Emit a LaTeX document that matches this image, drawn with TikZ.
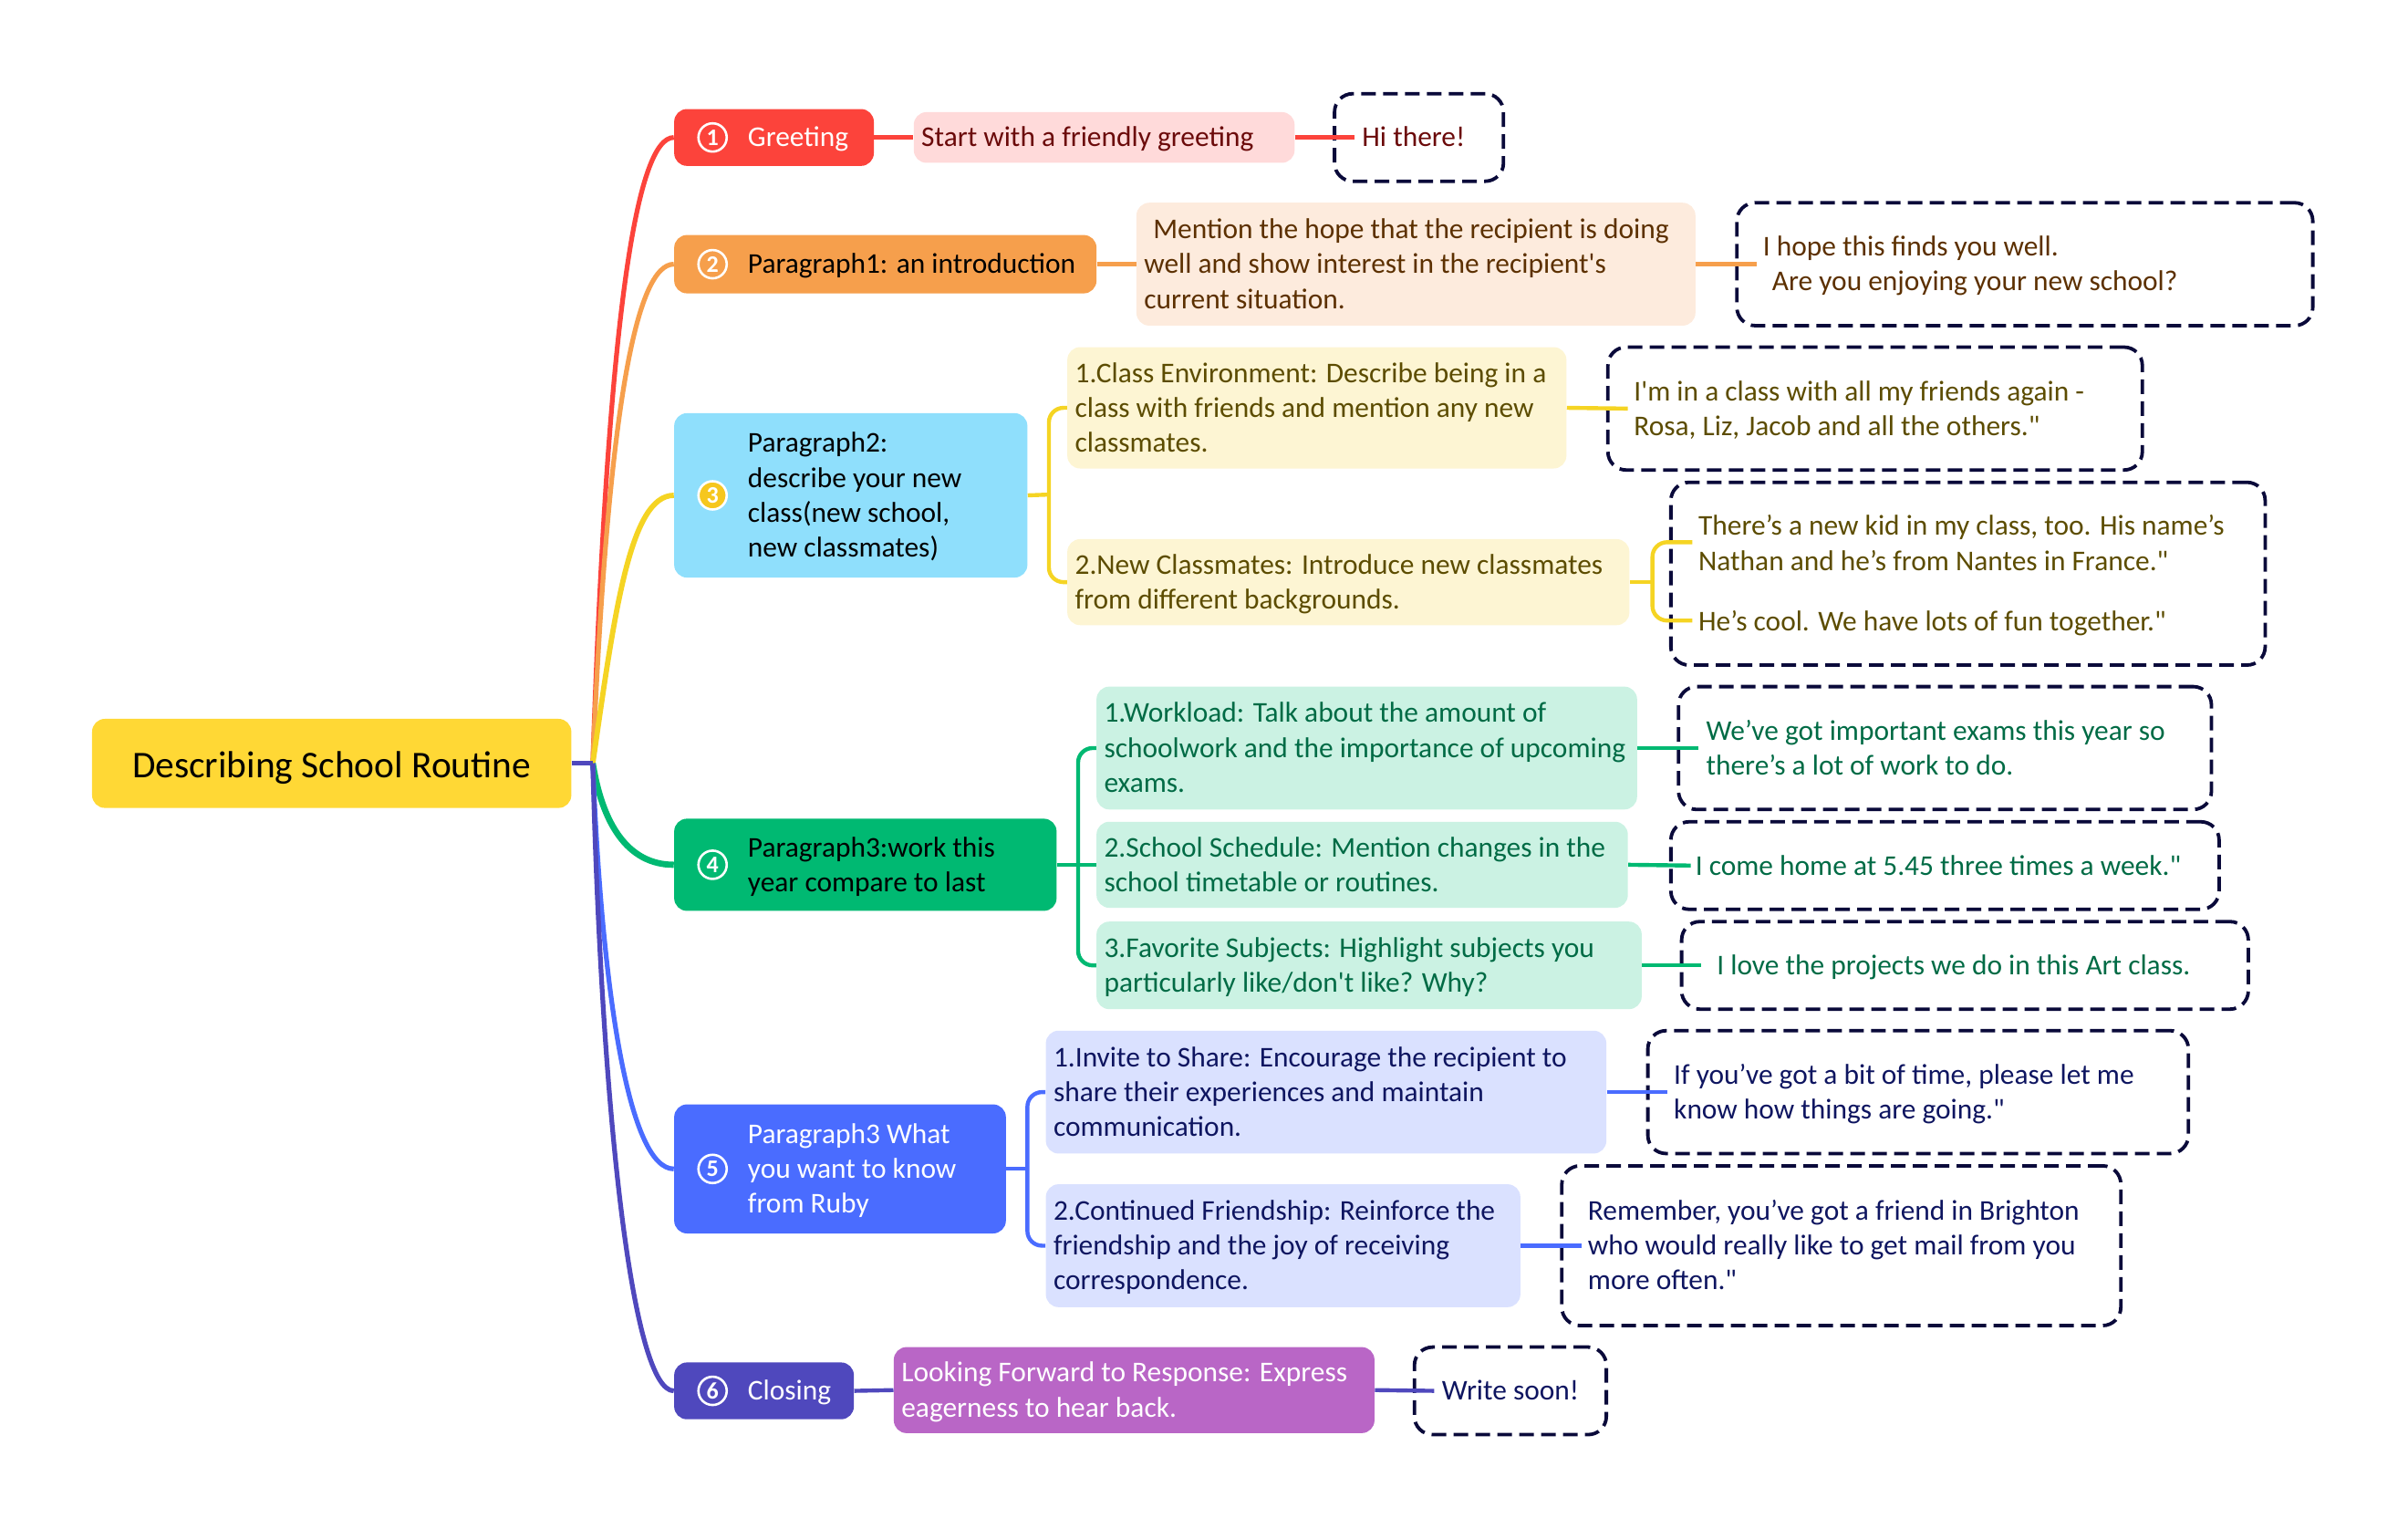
\documentclass[tikz,border=0pt]{standalone}
\usepackage{fontspec}
\setmainfont{Carlito}
\newcommand{\txtsize}{\fontsize{15.7pt}{19.1pt}\selectfont}
\newcommand{\sq}{\textquotesingle}
\newcommand{\dq}{\textquotedbl}
\definecolor{cRoot}{HTML}{FFD835}
\definecolor{cRed}{HTML}{FC433B}
\definecolor{cOrg}{HTML}{F69F4C}
\definecolor{cSky}{HTML}{8FDFFC}
\definecolor{cYel}{HTML}{F5D423}
\definecolor{cGrn}{HTML}{00B972}
\definecolor{cBlu}{HTML}{4A6CFF}
\definecolor{cInd}{HTML}{4F48BD}
\definecolor{cPur}{HTML}{B966C6}
\definecolor{fRed}{HTML}{FFDADA}
\definecolor{fOrg}{HTML}{FDEBDD}
\definecolor{fYel}{HTML}{FDF5D3}
\definecolor{fGrn}{HTML}{CBF2E3}
\definecolor{fBlu}{HTML}{DAE1FF}
\definecolor{tRed}{HTML}{6B0A0A}
\definecolor{tOrg}{HTML}{5C3000}
\definecolor{tYel}{HTML}{5C4C00}
\definecolor{tGrn}{HTML}{006B45}
\definecolor{tBlu}{HTML}{0E1560}
\definecolor{cDash}{HTML}{0A0A3A}
\tikzset{
  solidbox/.style={rounded corners=7pt,draw=none},
  dashbox/.style={rounded corners=10pt,draw=cDash,line width=1.9pt,dash pattern=on 8pt off 4pt,fill=none},
  numring/.style={circle,draw=white,line width=1.3pt,text=white,inner sep=0pt,minimum size=15.5pt,font=\fontsize{13pt}{13pt}\selectfont\bfseries},
  link/.style={line width=2.2pt},
  trunk/.style={line width=2.6pt},
}
% name, style, x1,y1,x2,y2, left pad, text
\newcommand{\bx}[8]{%
  \pgfmathsetmacro{\bxX}{(#3+#5)/2}%
  \pgfmathsetmacro{\bxY}{(#4+#6)/2}%
  \pgfmathsetlengthmacro{\bxW}{(#5-#3)*0.84185pt}%
  \pgfmathsetlengthmacro{\bxH}{(#6-#4)*0.84185pt}%
  \pgfmathsetlengthmacro{\bxP}{#7*0.84185pt}%
  \node[#2,minimum width=\bxW,minimum height=\bxH,inner sep=0pt] (#1) at (\bxX,\bxY)
    {\makebox[\bxW][l]{\hspace*{\bxP}\txtsize\raisebox{-1.3pt}[\height][\depth]{\begin{tabular}[c]{@{}l@{}}#8\end{tabular}}}};%
}
\begin{document}
\begin{tikzpicture}[x=0.84185pt,y=-0.84185pt]
\useasboundingbox (0,0) rectangle (1568,995.4);
\coordinate (hub) at (386,497);
\coordinate (j3) at (683,322);
\coordinate (j3b) at (1076,379);
\coordinate (j4) at (702,563);
\coordinate (j5) at (669,761);
\coordinate (e3a) at (1102,353);
\coordinate (e3b) at (1102,404);

% root
\node[solidbox,fill=cRoot,minimum width=262.7pt,minimum height=48.8pt,inner sep=0pt,font=\fontsize{20.7pt}{24pt}\selectfont,text=black] (root) at (216,497) {\raisebox{-2.4pt}[\height][\depth]{Describing School Routine}};

% branches
\bx{b1}{solidbox,fill=cRed,text=white}{439}{71}{569}{108}{48}{Greeting}
\bx{b2}{solidbox,fill=cOrg,text=black}{439}{153}{714}{191}{48}{Paragraph1: an introduction}
\bx{b3}{solidbox,fill=cSky,text=black}{439}{269}{669}{376}{48}{Paragraph2:\\describe your new\\class(new school,\\new classmates)}
\bx{b4}{solidbox,fill=cGrn,text=black}{439}{533}{688}{593}{48}{Paragraph3:work this\\year compare to last}
\bx{b5}{solidbox,fill=cBlu,text=white}{439}{719}{655}{803}{48}{Paragraph3 What\\you want to know\\from Ruby}
\bx{b6}{solidbox,fill=cInd,text=white}{439}{887}{556}{924}{48}{Closing}

\node[numring] (n1) at (464,89.5) {1};
\node[numring] (n2) at (464,172) {2};
\node[numring,fill=cYel!85!orange] (n3) at (464,322.5) {3};
\node[numring] (n4) at (464,563) {4};
\node[numring] (n5) at (464,761) {5};
\node[numring] (n6) at (464,905.5) {6};

% second level
\bx{s1}{solidbox,fill=fRed,text=tRed}{595}{73}{843}{106}{5}{Start with a friendly greeting}
\bx{s2}{solidbox,fill=fOrg,text=tOrg}{740}{132}{1104}{212}{5}{\hspace*{5pt}Mention the hope that the recipient is doing\\well and show interest in the recipient\sq s\\current situation.}
\bx{s3a}{solidbox,fill=fYel,text=tYel}{695}{226}{1020}{305}{5}{1.Class Environment: Describe being in a\\class with friends and mention any new\\classmates.}
\bx{s3b}{solidbox,fill=fYel,text=tYel}{695}{351}{1061}{407}{5}{2.New Classmates: Introduce new classmates\\from different backgrounds.}
\bx{s4a}{solidbox,fill=fGrn,text=tGrn}{714}{447}{1066}{527}{5}{1.Workload: Talk about the amount of\\schoolwork and the importance of upcoming\\exams.}
\bx{s4b}{solidbox,fill=fGrn,text=tGrn}{714}{535}{1060}{591}{5}{2.School Schedule: Mention changes in the\\school timetable or routines.}
\bx{s4c}{solidbox,fill=fGrn,text=tGrn}{714}{600}{1069}{657}{5}{3.Favorite Subjects: Highlight subjects you\\particularly like/don\sq t like? Why?}
\bx{s5a}{solidbox,fill=fBlu,text=tBlu}{681}{671}{1046}{751}{5}{1.Invite to Share: Encourage the recipient to\\share their experiences and maintain\\communication.}
\bx{s5b}{solidbox,fill=fBlu,text=tBlu}{681}{771}{990}{851}{5}{2.Continued Friendship: Reinforce the\\friendship and the joy of receiving\\correspondence.}
\bx{s6}{solidbox,fill=cPur,text=white}{582}{877}{895}{933}{5}{Looking Forward to Response: Express\\eagerness to hear back.}

% dashed notes
\bx{d1}{dashbox,text=tRed}{869}{61}{979}{118}{18}{Hi there!}
\bx{d2}{dashbox,text=tOrg}{1131}{132}{1506}{212}{17}{I hope this finds you well.\\\hspace*{5pt}Are you enjoying your new school?}
\bx{d3a}{dashbox,text=tYel}{1047}{226}{1395}{306}{17}{I\sq m in a class with all my friends again -\\Rosa, Liz, Jacob and all the others.\dq}
\bx{d3b}{dashbox,text=tYel}{1088}{314}{1475}{433}{18}{There’s a new kid in my class, too. His name’s\\Nathan and he’s from Nantes in France.\dq\\[13.9pt]He’s cool. We have lots of fun together.\dq}
\bx{d4a}{dashbox,text=tGrn}{1093}{447}{1440}{527}{18}{We’ve got important exams this year so\\there’s a lot of work to do.}
\bx{d4b}{dashbox,text=tGrn}{1088}{535}{1445}{592}{16}{I come home at 5.45 three times a week.\dq}
\bx{d4c}{dashbox,text=tGrn}{1095}{600}{1464}{657}{23}{I love the projects we do in this Art class.}
\bx{d5a}{dashbox,text=tBlu}{1073}{671}{1425}{751}{17}{If you’ve got a bit of time, please let me\\know how things are going.\dq}
\bx{d5b}{dashbox,text=tBlu}{1017}{759}{1381}{863}{17}{Remember, you’ve got a friend in Brighton\\who would really like to get mail from you\\more often.\dq}
\bx{d6}{dashbox,text=tBlu}{921}{877}{1046}{934}{18}{Write soon!}

% main curves
\draw[trunk,cRed] (hub) .. controls (396,200) and (415,89.5) .. (b1.west);
\draw[trunk,cOrg] (hub) .. controls (396,260) and (415,172) .. (b2.west);
\draw[trunk,cYel,line width=2.9pt] (hub) .. controls (400,400) and (410,322.5) .. (b3.west);
\draw[trunk,cGrn,line width=3.4pt] (hub) .. controls (392,535) and (408,563) .. (b4.west);
\draw[trunk,cBlu] (hub) .. controls (392,650) and (410,761) .. (b5.west);
\draw[trunk,cInd] (hub) .. controls (392,730) and (412,905.5) .. (b6.west);
\draw[trunk,cInd] (root.east) -- (hub);

% level links
\draw[link,cRed] (b1.east) -- (s1.west);
\draw[link,cRed] (s1.east) -- ([xshift=11.8pt]d1.west);
\draw[link,cOrg] (b2.east) -- (s2.west);
\draw[link,cOrg] (s2.east) -- ([xshift=11.8pt]d2.west);
\draw[link,cYel] (b3.east) -- (j3);
\draw[link,cYel,rounded corners=8pt] (s3a.west) -| (j3) |- (s3b.west);
\draw[link,cYel] (s3a.east) -- ([xshift=11.8pt]d3a.west);
\draw[link,cYel] (s3b.east) -- (j3b);
\draw[link,cYel,rounded corners=8pt] (e3a) -| (j3b) |- (e3b);
\draw[link,cGrn] (b4.east) -- (s4b.west);
\draw[link,cGrn,rounded corners=8pt] (s4a.west) -| (j4) |- (s4c.west);
\draw[link,cGrn] (s4a.east) -- ([xshift=11.8pt]d4a.west);
\draw[link,cGrn] (s4b.east) -- ([xshift=11.8pt]d4b.west);
\draw[link,cGrn] (s4c.east) -- ([xshift=11.8pt]d4c.west);
\draw[link,cBlu] (b5.east) -- (j5);
\draw[link,cBlu,rounded corners=8pt] (s5a.west) -| (j5) |- (s5b.west);
\draw[link,cBlu] (s5a.east) -- ([xshift=11.8pt]d5a.west);
\draw[link,cBlu] (s5b.east) -- ([xshift=11.8pt]d5b.west);
\draw[link,cInd] (b6.east) -- (s6.west);
\draw[link,cInd] (s6.east) -- ([xshift=11.8pt]d6.west);
\end{tikzpicture}
\end{document}
